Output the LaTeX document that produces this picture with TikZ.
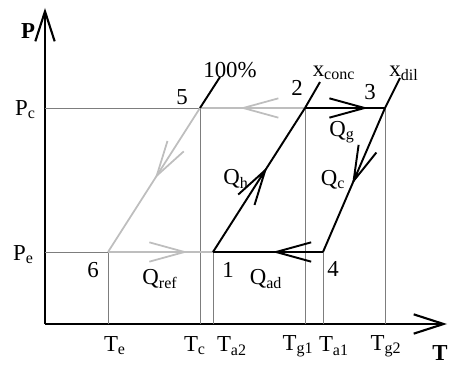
\documentclass[tikz,border=0pt]{standalone}
\usepackage{fontspec}
\setmainfont{Liberation Serif}
\usepackage{xcolor}
\definecolor{guidegray}{RGB}{125,125,125}
\definecolor{refgray}{RGB}{190,190,190}
\usetikzlibrary{arrows.meta,decorations.markings}

\begin{document}
\begin{tikzpicture}[x=0.02cm, y=0.02cm,
    font=\fontsize{13}{15}\selectfont,
    axis/.style={line width=1.2pt, -{Straight Barb[length=17pt, width=11pt]}},
    guide/.style={guidegray, line width=0.5pt},
    refcycle/.style={refgray, line width=1pt},
    solcycle/.style={black, line width=1.1pt},
    barb/.style={postaction={decorate, decoration={markings,
        mark=at position #1 with {\arrow{Straight Barb[length=20pt, width=11pt]}}}}},
    barbfill/.style={postaction={decorate, decoration={markings,
        mark=at position #1 with {\arrow{Straight Barb[length=20pt, width=11pt]}\arrow{Latex[length=7pt, width=3pt]}}}}},
    axlabel/.style={font=\fontsize{13}{15}\selectfont\bfseries}]
    \useasboundingbox (0,0) rectangle (449,365);

    % Axes
    \coordinate (O) at (45,41);
    \coordinate (Ytip) at (45,357);
    \coordinate (Xtip) at (447,41);
    \draw[axis] (O) -- (Ytip);
    \draw[axis] (O) -- (Xtip);
    \node[axlabel] (Plabel) at (28,334) {P};
    \node[axlabel] (Tlabel) at (440,12) {T};

    % States of the cycle
    \coordinate (Pc) at (45,257);
    \coordinate (Pe) at (45,113);
    \coordinate (S5) at (200,257);
    \coordinate (S2) at (305,257);
    \coordinate (S3) at (385,257);
    \coordinate (S6) at (108,113);
    \coordinate (S1) at (213,113);
    \coordinate (S4) at (323,113);

    % Isosteres continued above Pc
    \coordinate (E100) at (220,288);
    \coordinate (Econc) at (320,283);
    \coordinate (Edil) at (400,287);

    % Guide lines
    \draw[guide] (Pc) -- (S3);
    \draw[guide] (Pe) -- (S4);
    \foreach \s in {S6,S5,S1,S2,S4,S3}
        \draw[guide] (\s) -- (\s |- O);

    % Refrigerant loop
    \draw[refcycle, barb=0.62] (S2) -- (S5);
    \draw[refcycle, barb=0.49] (S5) -- (S6);
    \draw[refcycle, barb=0.76] (S6) -- (S1);

    % Solution loop
    \draw[solcycle, barbfill=0.59] (S1) -- (S2);
    \draw[solcycle, barbfill=0.79] (S2) -- (S3);
    \draw[solcycle, barbfill=0.53] (S3) -- (S4);
    \draw[solcycle, barbfill=0.46] (S4) -- (S1);
    \draw[solcycle] (S5) -- (E100);
    \draw[solcycle] (S2) -- (Econc);
    \draw[solcycle] (S3) -- (Edil);

    % Pressure labels
    \node[anchor=east] (PcLabel) at (42,255) {P\textsubscript{c}};
    \node[anchor=east] (PeLabel) at (40,110) {P\textsubscript{e}};

    % State labels
    \node (N5) at (182,268) {5};
    \node (N2) at (297,277) {2};
    \node (N3) at (370,273) {3};
    \node (N6) at (93,95) {6};
    \node (N1) at (228,95) {1};
    \node (N4) at (333,96) {4};
    \node (L100) at (230,295) {100\%};
    \node (Lconc) at (334,292) {x\textsubscript{conc}};
    \node (Ldil) at (404,292) {x\textsubscript{dil}};

    % Heat labels
    \node (Qg) at (342,233) {Q\textsubscript{g}};
    \node (Qh) at (236,186) {Q\textsubscript{h}};
    \node (Qc) at (333,185) {Q\textsubscript{c}};
    \node (Qref) at (160,86) {Q\textsubscript{ref}};
    \node (Qad) at (266,86) {Q\textsubscript{ad}};

    % Temperature labels
    \node (Te) at (115,19) {T\textsubscript{e}};
    \node (Tc) at (195,19) {T\textsubscript{c}};
    \node (Ta2) at (232,19) {T\textsubscript{a2}};
    \node (Tg1) at (298,19) {T\textsubscript{g1}};
    \node (Ta1) at (334,19) {T\textsubscript{a1}};
    \node (Tg2) at (386,19) {T\textsubscript{g2}};
\end{tikzpicture}
\end{document}
